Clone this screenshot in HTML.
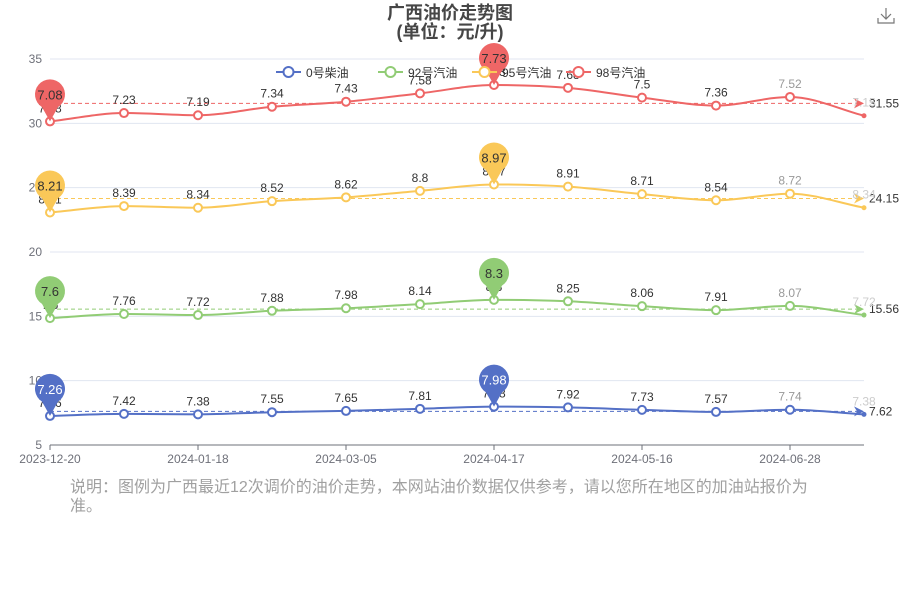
<!DOCTYPE html>
<html><head><meta charset="utf-8"><style>
html,body{margin:0;padding:0;background:#fff;}
body{width:900px;height:600px;position:relative;overflow:hidden;font-family:"Liberation Sans","Noto Sans CJK SC",sans-serif;}
#title{position:absolute;left:0;width:900px;top:4px;text-align:center;font-weight:bold;font-size:18px;line-height:19px;color:#464646;}
#note{position:absolute;left:70px;top:478px;width:750px;font-size:16px;line-height:19px;color:#a0a0a0;}
</style></head><body>
<div id="title">广西油价走势图<br>(单位：元/升)</div>
<svg id="dl" style="position:absolute;left:877px;top:7px" width="18" height="18" viewBox="0 0 18 18"><path d="M9 1V12M4 7L9 12L14 7M1 11V16H17V11" fill="none" stroke="#777" stroke-width="1.2"/></svg>
<svg id="chart" width="900" height="600" style="position:absolute;left:0;top:0"></svg>
<div id="note">说明：图例为广西最近12次调价的油价走势，本网站油价数据仅供参考，请以您所在地区的加油站报价为准。</div>
<script>
const categories=["2023-12-20","2024-01-03","2024-01-18","2024-02-01","2024-03-05","2024-03-19","2024-04-17","2024-04-30","2024-05-16","2024-05-29","2024-06-28","2024-07-11"];
const diesel0=[7.26,7.42,7.38,7.55,7.65,7.81,7.98,7.92,7.73,7.57,7.74,7.38];
const gas92=[7.6,7.76,7.72,7.88,7.98,8.14,8.3,8.25,8.06,7.91,8.07,7.72];
const gas95=[8.21,8.39,8.34,8.52,8.62,8.8,8.97,8.91,8.71,8.54,8.72,8.34];
const gas98=[7.08,7.23,7.19,7.34,7.43,7.58,7.73,7.68,7.50,7.36,7.52,7.15];
const seriesNames=["0号柴油","92号汽油","95号汽油","98号汽油"];
const yTicks=[5,10,15,20,25,30,35];

const NS="http://www.w3.org/2000/svg";
const svg=document.getElementById('chart');
const X0=50,X1=864,Y0=445,Y1=59,YMIN=5,YMAX=35;
const xS=i=>X0+i*(X1-X0)/(categories.length-1);
const yS=v=>Y0-(v-YMIN)*(Y0-Y1)/(YMAX-YMIN);
function mk(t,a,p){const e=document.createElementNS(NS,t);for(const k in a)e.setAttribute(k,a[k]);(p||svg).appendChild(e);return e;}
function tx(s,a){const e=mk('text',a);e.textContent=s;return e;}

yTicks.forEach(v=>{
  const g=mk('line',{x1:X0,x2:X1,y1:yS(v),y2:yS(v),stroke:v===YMIN?'#6e7079':'#e0e6f1'});
  
  
  const t=tx(v,{x:42,y:yS(v)+4,'text-anchor':'end','font-size':12,fill:'#6e7079'});
  
  
});
categories.forEach((c,i)=>{
  if(i%2)return;
  mk('line',{x1:xS(i),x2:xS(i),y1:Y0,y2:Y0+5,stroke:'#6e7079'});
  const t=tx(c,{x:xS(i),y:Y0+18,'text-anchor':'middle','font-size':12,fill:'#6e7079'});
  
  
});

const colors=['#5470c6','#91cc75','#fac858','#ee6666'];
const raw=[diesel0,gas92,gas95,gas98];
const cum=[];let base=diesel0.map(()=>0);
raw.forEach(s=>{base=base.map((b,i)=>b+s[i]);cum.push(base.slice());});

function monotone(pts){
  const n=pts.length,d=[],m=[];
  for(let i=0;i<n-1;i++)d.push((pts[i+1][1]-pts[i][1])/(pts[i+1][0]-pts[i][0]));
  for(let i=0;i<n;i++){if(i===0)m.push(d[0]);else if(i===n-1)m.push(d[n-2]);else m.push(d[i-1]*d[i]<=0?0:(d[i-1]+d[i])/2);}
  let p=`M${pts[0][0]},${pts[0][1]}`;
  for(let i=0;i<n-1;i++){const h=(pts[i+1][0]-pts[i][0])/3;
    p+=`C${pts[i][0]+h},${pts[i][1]+m[i]*h} ${pts[i+1][0]-h},${pts[i+1][1]-m[i+1]*h} ${pts[i+1][0]},${pts[i+1][1]}`;}
  return p;
}
const pinGroup=[];
raw.forEach((s,k)=>{
  const col=colors[k],c=cum[k],n=c.length;
  const pts=c.map((v,i)=>[xS(i),yS(v)]);
  const line=mk('path',{d:monotone(pts),fill:'none',stroke:col,'stroke-width':2});
  
  
  // average markline
  const avg=c.reduce((a,b)=>a+b,0)/n, ya=yS(avg);
  mk('line',{x1:X0,x2:X1-6,y1:ya,y2:ya,stroke:col,'stroke-dasharray':'4,3'});
  mk('path',{d:`M${X1-10},${ya-5}L${X1},${ya}L${X1-10},${ya+5}L${X1-7},${ya}Z`,fill:col});
  const al=tx(avg.toFixed(2),{x:X1+5,y:ya+4,'font-size':12,fill:'#333'});
  
  
  pts.forEach((p,i)=>{
    if(i===n-1){mk('circle',{cx:p[0],cy:p[1],r:2.5,fill:col});}
    else{const ci=mk('circle',{cx:p[0],cy:p[1],r:4,fill:'#fff',stroke:col,'stroke-width':2});
      
      }
    const fill=i===n-1?'#ccc':(i===n-2?'#999':'#333');
    const t=tx(s[i],{x:p[0],y:p[1]-9,'text-anchor':'middle','font-size':12,fill:fill});
    
    
  });
  // pins for max/min
  let mi=0,ma=0;s.forEach((v,i)=>{if(v<s[mi])mi=i;if(v>s[ma])ma=i;});
  [mi,ma].forEach(i=>pinGroup.push([pts[i][0],pts[i][1],s[i],col,k]));
});
pinGroup.forEach(([x,y,v,col,k])=>{
  const cy=y-27;
  const pin=mk('path',{d:`M${x},${y}L${x-8},${cy+12.7}A15 15 0 1 1 ${x+8},${cy+12.7}Z`,fill:col});
  
  
  tx(v,{x:x,y:cy+5,'text-anchor':'middle','font-size':13,fill:k===0?'#fff':'#333'});
});
// legend
let lx=276;
seriesNames.forEach((nm,k)=>{
  const g=mk('g',{});
  
  
  mk('line',{x1:lx,x2:lx+25,y1:72,y2:72,stroke:colors[k],'stroke-width':2},g);
  mk('circle',{cx:lx+12.5,cy:72,r:5,fill:'#fff',stroke:colors[k],'stroke-width':2},g);
  const t=tx(nm,{x:lx+30,y:77,'font-size':12,fill:'#333'});g.appendChild(t);
  lx+=30+(nm.length===4?62:54)+10;
});
</script>
</body></html>
